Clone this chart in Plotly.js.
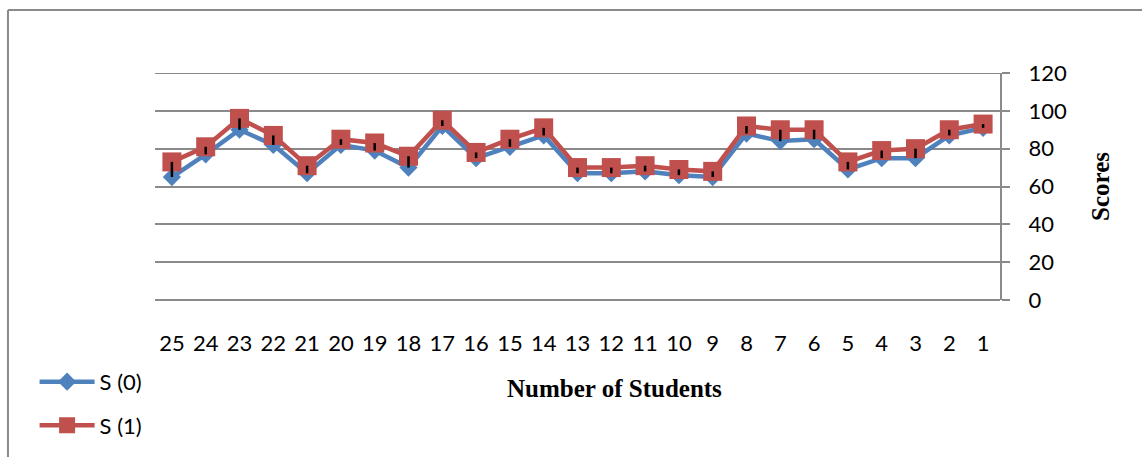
<!DOCTYPE html>
<html>
<head>
<meta charset="utf-8">
<script src="https://cdn.plot.ly/plotly-3.0.1.min.js"></script>
<style>
html,body{margin:0;padding:0;background:#fff;}
#chart{width:1142px;height:457px;}
</style>
</head>
<body>
<div id="chart"></div>
<script>
var students = ["25","24","23","22","21","20","19","18","17","16","15","14","13","12","11","10","9","8","7","6","5","4","3","2","1"];
var s0 = [65,77,90,82,67,82,79,70,92,75,81,87,67,67,68,66,65,88,84,85,69,75,75,87,91];
var s1 = [73,81,96,87,71,85,83,76,95,78,85,91,70,70,71,69,68,92,90,90,73,79,80,90,93];
var yTicks = [0,20,40,60,80,100,120];

// high-low lines: from S (0) up to S (1) at each student
var hlPlus = s1.map(function(v, i){ return v - s0[i]; });
var hlMinus = s0.map(function(){ return 0; });

var tickFont = {family:"Lato, 'Open Sans', sans-serif", size:22, color:"#000"};
var serifBold = {family:"'Liberation Serif', 'Times New Roman', serif", size:25, color:"#000", weight:"bold"};

var traces = [
  {
    x: students, y: s0, name: "S (0)", type: "scatter", mode: "lines+markers",
    legendgroup: "a",
    line: {color:"#4F81BD", width:4.5},
    marker: {symbol:"diamond", size:14, color:"#4F81BD"}
  },
  {
    x: students, y: s1, name: "S (1)", type: "scatter", mode: "lines+markers",
    legendgroup: "b",
    line: {color:"#C0504D", width:4.5},
    marker: {symbol:"square", size:19, color:"#C0504D"}
  },
  {
    x: students, y: s0, name: "high-low", type: "scatter", mode: "markers",
    showlegend: false, hoverinfo: "skip",
    marker: {size:1, color:"rgba(0,0,0,0)"},
    error_y: {type:"data", symmetric:false, array:hlPlus, arrayminus:hlMinus, visible:true, color:"#000", thickness:2.5, width:0}
  }
];

var layout = {
  width: 1142, height: 457,
  margin: {l:155, r:142, t:73, b:157, autoexpand:false},
  paper_bgcolor: "#fff", plot_bgcolor: "#fff",
  showlegend: true,
  legend: {
    x: -0.1425, y: -0.268, xanchor: "left", yanchor: "top",
    font: {family:"Lato, 'Open Sans', sans-serif", size:22, color:"#000"},
    itemwidth: 55, tracegroupgap: 12, bgcolor: "rgba(0,0,0,0)"
  },
  xaxis: {
    type: "category", range: [-0.5, 24.5],
    showgrid: false, zeroline: false, showline: false,
    ticks: "", tickfont: tickFont, ticklabelstandoff: 28,
    automargin: false, fixedrange: true
  },
  yaxis: {
    side: "right", range: [0, 120], tickvals: yTicks, ticktext: yTicks.map(String),
    showgrid: true, gridcolor: "#8a8a8a", gridwidth: 2,
    zeroline: true, zerolinecolor: "#8a8a8a", zerolinewidth: 2,
    showline: true, linecolor: "#8a8a8a", linewidth: 2,
    ticks: "outside", ticklen: 8, tickcolor: "#8a8a8a", tickwidth: 2,
    tickfont: tickFont, ticklabelstandoff: 14,
    title: {text:"Scores", font: serifBold, standoff: 26},
    automargin: false, fixedrange: true
  },
  annotations: [
    {text:"Number of Students", xref:"paper", yref:"paper", x:0.544, y:-0.388,
     xanchor:"center", yanchor:"middle", showarrow:false, font: serifBold}
  ],
  shapes: [
    {type:"line", xref:"paper", yref:"y", x0:0, x1:1, y0:yTicks[yTicks.length-1], y1:yTicks[yTicks.length-1], line:{color:"#8a8a8a", width:2}, layer:"below"},
    {type:"line", xref:"paper", yref:"paper", x0:-0.174, x1:1.2, y0:1.2775, y1:1.2775, line:{color:"#8a8a8a", width:2}},
    {type:"line", xref:"paper", yref:"paper", x0:-0.174, x1:-0.174, y0:1.2775, y1:-0.75, line:{color:"#8a8a8a", width:2}}
  ]
};

Plotly.newPlot("chart", traces, layout, {displayModeBar:false, staticPlot:true});
</script>
</body>
</html>
